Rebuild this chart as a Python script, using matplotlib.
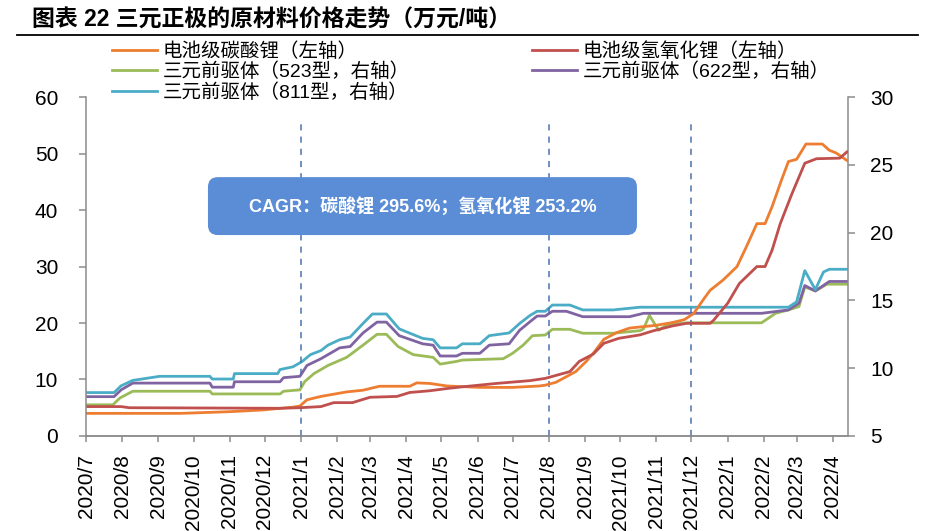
import numpy as np
import pandas as pd
import matplotlib
matplotlib.use('Agg')
import matplotlib.pyplot as plt
import matplotlib.dates as mdates
from matplotlib.patches import FancyBboxPatch
from matplotlib.lines import Line2D

plt.rcParams['font.family'] = ['Liberation Sans', 'Noto Sans CJK SC', 'DejaVu Sans']

# 电池级碳酸锂 (左轴, 万元/吨)
li2co3_dates = ['2020-07-01', '2020-09-20', '2020-11-01', '2020-11-29', '2020-12-25', '2020-12-31',
                '2021-01-06', '2021-01-18', '2021-02-09', '2021-02-23', '2021-03-09', '2021-04-04',
                '2021-04-10', '2021-04-21', '2021-05-06', '2021-06-03', '2021-07-01', '2021-07-24',
                '2021-07-29', '2021-08-07', '2021-08-16', '2021-08-24', '2021-09-02', '2021-09-09',
                '2021-09-17', '2021-09-28', '2021-10-09', '2021-10-18', '2021-11-01', '2021-11-15',
                '2021-11-25', '2021-12-03', '2021-12-11', '2021-12-17', '2021-12-28', '2022-01-09',
                '2022-01-17', '2022-01-26', '2022-02-02', '2022-02-08', '2022-02-16', '2022-02-22',
                '2022-03-01', '2022-03-09', '2022-03-23', '2022-03-29', '2022-04-04', '2022-04-13']
li2co3_vals = [4.0, 4.0, 4.3, 4.6, 5.1, 5.3,
               6.4, 7.0, 7.8, 8.1, 8.8, 8.8,
               9.4, 9.3, 8.85, 8.6, 8.6, 8.85,
               9.0, 9.5, 10.5, 11.4, 13.2, 14.9,
               17.1, 18.3, 19.1, 19.3, 19.6, 20.1,
               20.6, 21.7, 24.1, 25.8, 27.6, 30.0,
               33.5, 37.6, 37.6, 40.6, 45.3, 48.6,
               49.0, 51.7, 51.7, 50.6, 50.1, 48.8]

# 电池级氢氧化锂 (左轴)
lioh_dates = ['2020-07-01', '2020-07-31', '2020-08-07', '2020-12-14', '2020-12-31', '2021-01-18',
              '2021-01-29', '2021-02-14', '2021-03-01', '2021-03-24', '2021-04-04', '2021-04-21',
              '2021-05-06', '2021-05-19', '2021-06-17', '2021-07-16', '2021-07-29', '2021-08-19',
              '2021-08-27', '2021-09-08', '2021-09-17', '2021-09-30', '2021-10-18', '2021-10-29',
              '2021-11-15', '2021-11-27', '2021-12-17', '2021-12-20', '2022-01-01', '2022-01-11',
              '2022-01-26', '2022-02-02', '2022-02-08', '2022-02-15', '2022-02-25', '2022-03-08',
              '2022-03-18', '2022-04-07', '2022-04-13']
lioh_vals = [5.2, 5.2, 5.0, 4.9, 5.0, 5.2,
             5.9, 5.9, 6.85, 7.0, 7.7, 8.0,
             8.4, 8.7, 9.3, 9.8, 10.2, 11.4,
             13.2, 14.5, 16.4, 17.3, 17.9, 18.6,
             19.5, 19.95, 19.95, 20.5, 23.5, 27.0,
             30.0, 30.0, 32.9, 37.6, 42.9, 48.3,
             49.1, 49.2, 50.3]

# 三元前驱体 523型 (右轴)
p523_dates = ['2020-07-01', '2020-07-24', '2020-07-30', '2020-08-10', '2020-10-15', '2020-10-17',
              '2020-12-14', '2020-12-17', '2020-12-31', '2021-01-04', '2021-01-12', '2021-01-24',
              '2021-02-09', '2021-02-23', '2021-03-07', '2021-03-15', '2021-03-25', '2021-04-07',
              '2021-04-24', '2021-04-30', '2021-05-14', '2021-05-19', '2021-06-23', '2021-07-01',
              '2021-07-10', '2021-07-18', '2021-07-29', '2021-08-04', '2021-08-19', '2021-08-30',
              '2021-09-25', '2021-10-18', '2021-10-21', '2021-10-26', '2021-11-03', '2021-11-10',
              '2021-11-27', '2022-01-30', '2022-02-11', '2022-02-22', '2022-03-03', '2022-03-08',
              '2022-03-17', '2022-03-27', '2022-04-13']
p523_vals = [7.3, 7.3, 7.8, 8.3, 8.3, 8.1,
             8.1, 8.3, 8.4, 9.0, 9.6, 10.2,
             10.8, 11.7, 12.5, 12.5, 11.6, 11.0,
             10.8, 10.3, 10.5, 10.6, 10.7, 11.1,
             11.7, 12.4, 12.45, 12.87, 12.87, 12.58,
             12.58, 12.77, 12.9, 13.9, 12.8, 13.2,
             13.35, 13.35, 14.05, 14.3, 14.55, 16.0,
             15.7, 16.2, 16.2]

# 三元前驱体 622型 (右轴)
p622_dates = ['2020-07-01', '2020-07-25', '2020-07-31', '2020-08-10', '2020-10-15', '2020-10-17',
              '2020-11-04', '2020-11-05', '2020-12-14', '2020-12-17', '2020-12-31', '2021-01-06',
              '2021-01-18', '2021-02-03', '2021-02-12', '2021-02-23', '2021-03-07', '2021-03-15',
              '2021-03-26', '2021-04-15', '2021-04-24', '2021-04-30', '2021-05-14', '2021-05-19',
              '2021-06-03', '2021-06-11', '2021-06-28', '2021-07-07', '2021-07-16', '2021-07-22',
              '2021-07-29', '2021-08-04', '2021-08-16', '2021-08-30', '2021-10-09', '2021-10-21',
              '2022-01-30', '2022-02-22', '2022-03-03', '2022-03-08', '2022-03-17', '2022-03-29',
              '2022-04-13']
p622_vals = [7.9, 7.9, 8.4, 8.9, 8.9, 8.6,
             8.6, 9.0, 9.0, 9.3, 9.4, 10.2,
             10.7, 11.5, 11.6, 12.6, 13.4, 13.4,
             12.4, 11.8, 11.7, 10.9, 10.9, 11.1,
             11.1, 11.7, 11.8, 12.8, 13.44, 13.85,
             13.85, 14.2, 14.2, 13.8, 13.8, 14.05,
             14.05, 14.3, 14.8, 16.1, 15.7, 16.4,
             16.4]

# 三元前驱体 811型 (右轴)
p811_dates = ['2020-07-01', '2020-07-25', '2020-07-31', '2020-08-10', '2020-09-02', '2020-10-15',
              '2020-10-17', '2020-11-04', '2020-11-05', '2020-12-12', '2020-12-14', '2020-12-25',
              '2021-01-02', '2021-01-09', '2021-01-18', '2021-01-24', '2021-02-03', '2021-02-12',
              '2021-02-23', '2021-03-03', '2021-03-15', '2021-03-26', '2021-04-15', '2021-04-24',
              '2021-04-30', '2021-05-14', '2021-05-19', '2021-06-03', '2021-06-11', '2021-06-28',
              '2021-07-07', '2021-07-16', '2021-07-22', '2021-07-29', '2021-08-04', '2021-08-19',
              '2021-08-30', '2021-09-25', '2021-10-18', '2022-02-22', '2022-03-01', '2022-03-08',
              '2022-03-17', '2022-03-24', '2022-03-29', '2022-04-13']
p811_vals = [8.2, 8.2, 8.7, 9.1, 9.4, 9.4,
             9.2, 9.2, 9.6, 9.6, 9.9, 10.1,
             10.5, 11.0, 11.3, 11.7, 12.1, 12.3,
             13.3, 14.0, 14.0, 12.9, 12.2, 12.1,
             11.5, 11.5, 11.8, 11.8, 12.4, 12.6,
             13.3, 13.9, 14.2, 14.2, 14.66, 14.66,
             14.3, 14.3, 14.5, 14.5, 14.9, 17.2,
             15.8, 17.1, 17.3, 17.3]

marker_dates = ['2021-01-01', '2021-08-01', '2021-12-01']

labels = ['电池级碳酸锂（左轴）', '电池级氢氧化锂（左轴）', '三元前驱体（523型，右轴）',
          '三元前驱体（622型，右轴）', '三元前驱体（811型，右轴）']
colors = ['#ED7D31', '#C0504D', '#9BBB59', '#8064A2', '#4BACC6']
title = '图表 22 三元正极的原材料价格走势（万元/吨）'
cagr_text = 'CAGR：碳酸锂 295.6%；氢氧化锂 253.2%'

axis_gray = '#8C8C8C'

fig = plt.figure(figsize=(9.35, 5.31), dpi=100)
ax = fig.add_axes([0.092, 0.179, 0.815, 0.638])
ax2 = ax.twinx()
ax.set_zorder(ax2.get_zorder() + 1)
ax.patch.set_visible(False)

lw = 2.0
h523, = ax2.plot(pd.to_datetime(p523_dates), p523_vals, color=colors[2], lw=lw)
h622, = ax2.plot(pd.to_datetime(p622_dates), p622_vals, color=colors[3], lw=lw)
h811, = ax2.plot(pd.to_datetime(p811_dates), p811_vals, color=colors[4], lw=lw)
hco3, = ax.plot(pd.to_datetime(li2co3_dates), li2co3_vals, color=colors[0], lw=lw)
hoh, = ax.plot(pd.to_datetime(lioh_dates), lioh_vals, color=colors[1], lw=lw)

for d in marker_dates:
    ax.axvline(pd.Timestamp(d), ymin=0, ymax=0.935, color='#4A72B0', lw=1.1,
               ls=(0, (4, 4)), zorder=0)

ax.set_xlim(pd.Timestamp('2020-07-01'), pd.Timestamp('2022-04-14'))
ax.set_ylim(0, 60)
ax.set_yticks(np.arange(0, 61, 10))
ax2.set_ylim(5, 30)
ax2.set_yticks(np.arange(5, 31, 5))

ax.xaxis.set_major_locator(mdates.MonthLocator())
ax.xaxis.set_major_formatter(plt.FuncFormatter(
    lambda v, _: f"{mdates.num2date(v).year}/{mdates.num2date(v).month}"))

for a in (ax, ax2):
    a.spines['top'].set_visible(False)
    for s in a.spines.values():
        s.set_color(axis_gray)
        s.set_linewidth(1.1)
ax.spines['right'].set_visible(False)
ax2.spines['left'].set_visible(False)

ax.tick_params(axis='y', colors=axis_gray, labelcolor='black', labelsize=15,
               length=5, width=1.1, pad=15)
ax.tick_params(axis='x', colors=axis_gray, labelcolor='black', labelsize=15,
               length=4, width=1.1, pad=9, labelrotation=90)
ax2.tick_params(axis='y', colors=axis_gray, labelcolor='black', labelsize=15,
                length=5, width=1.1, pad=11)

# CAGR box
box = FancyBboxPatch((0.160, 0.593), 0.563, 0.171, transform=ax.transAxes,
                     boxstyle='round,pad=0,rounding_size=0.013', mutation_aspect=2.25,
                     facecolor='#5B8DD6', edgecolor='none', zorder=10)
ax.add_patch(box)
ax.text(0.4415, 0.678, cagr_text, transform=ax.transAxes, ha='center', va='center',
        color='white', fontsize=13, fontweight='bold', zorder=11)

# legend
handles = [hco3, h523, h811, hoh, h622]
leg_labels = [labels[0], labels[2], labels[4], labels[1], labels[3]]
fig.legend(handles, leg_labels, loc='upper left', bbox_to_anchor=(0.12, 0.921),
           ncol=2, frameon=False, fontsize=14, handlelength=2.3, handletextpad=0.3,
           columnspacing=6.3, labelspacing=0.1, borderpad=0, borderaxespad=0)

# title and rule
fig.text(0.034, 0.962, title, fontsize=16.5, fontweight='bold', ha='left', va='center')
fig.add_artist(Line2D([0.018, 0.982], [0.934, 0.934], color='black', lw=1.3,
                      transform=fig.transFigure))

fig.savefig('out.png', dpi=100)
